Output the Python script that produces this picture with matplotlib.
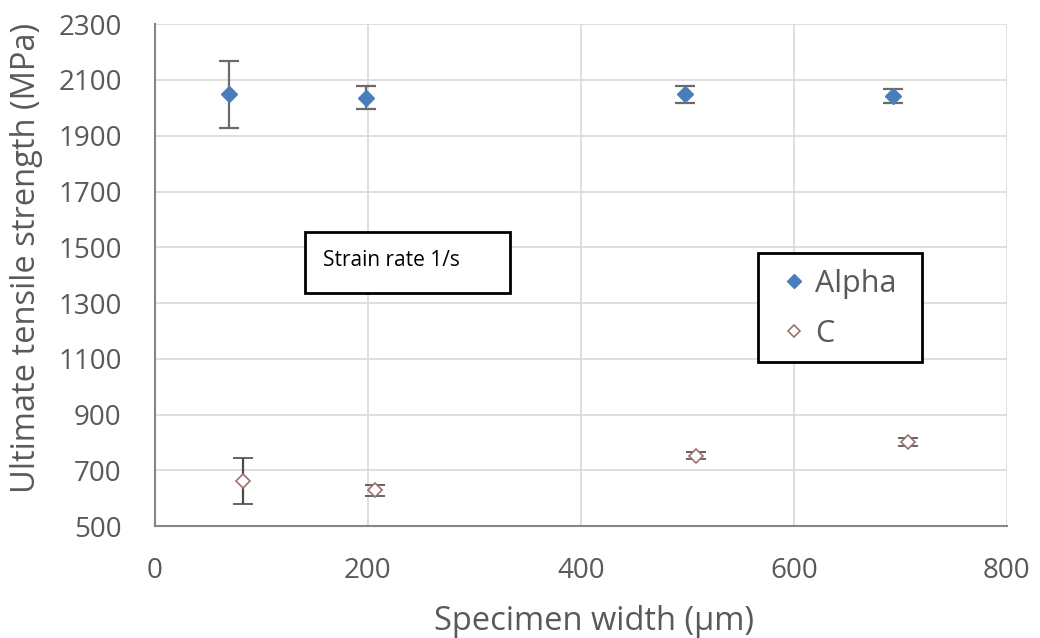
import matplotlib
matplotlib.use("Agg")
import matplotlib.pyplot as plt
from matplotlib.patches import Rectangle

plt.rcParams['font.family'] = ['Open Sans', 'DejaVu Sans']

# data
alpha_w = [70, 198, 498, 693]
alpha_uts = [2048, 2037, 2048, 2042]
alpha_err = [120, 41, 30, 25]

c_w = [83, 207, 508, 707]
c_uts = [662, 628, 752, 802]
c_err = [83, 20, 12, 15]

xticks = [0, 200, 400, 600, 800]
yticks = list(range(500, 2301, 200))

txt = '#595959'

fig = plt.figure(figsize=(10.4, 6.38), dpi=100)
ax = fig.add_axes([0.149, 0.1755, 0.819, 0.7865])

ax.errorbar(alpha_w, alpha_uts, yerr=alpha_err, fmt='D', color='#4A7EBB',
            ms=8, ecolor='#6b6b6b', elinewidth=1.6, capsize=7, capthick=1.6,
            label='Alpha', zorder=3)
ax.errorbar(c_w, c_uts, yerr=c_err, fmt='D', mfc='white', mec='#A0706A',
            ms=7, mew=1.2, ecolor='#4a4a4a', elinewidth=1.6, capsize=7,
            capthick=1.6, label='C', zorder=3)

ax.set_xlim(0, 800)
ax.set_ylim(500, 2300)
ax.set_xticks(xticks)
ax.set_yticks(yticks)
ax.grid(True, color='#D9D9D9', lw=1.2)
ax.set_axisbelow(True)
for s in ['top', 'right']:
    ax.spines[s].set_visible(False)
for s in ['left', 'bottom']:
    ax.spines[s].set_color('#868686')
    ax.spines[s].set_linewidth(1.5)
ax.tick_params(length=0, labelsize=20, labelcolor=txt)
ax.tick_params(axis='x', pad=22)
ax.tick_params(axis='y', pad=24)
ax.set_xlabel('Specimen width (µm)', fontsize=23.5, color=txt)
ax.set_ylabel('Ultimate tensile strength (MPa)', fontsize=23.5, color=txt)
ax.xaxis.set_label_coords(0.516, -0.158)
ax.yaxis.set_label_coords(-0.132, 0.534)

# note box
ax.add_patch(Rectangle((0.176, 0.464), 0.241, 0.122, transform=ax.transAxes,
                       fill=True, fc='white', ec='black', lw=2, zorder=4))
ax.text(0.197, 0.530, 'Strain rate 1/s', transform=ax.transAxes, fontsize=15,
        color='black', va='center', ha='left', zorder=5)

# legend box
ax.add_patch(Rectangle((0.708, 0.327), 0.192, 0.217, transform=ax.transAxes,
                       fill=True, fc='white', ec='black', lw=2, zorder=4))
h, l = ax.get_legend_handles_labels()
h = [x[0] for x in h]
leg = ax.legend(h, l, loc='center', bbox_to_anchor=(0.805, 0.433), frameon=False,
                fontsize=22, labelcolor=txt, handlelength=0.6, handletextpad=0.4,
                labelspacing=0.65, markerscale=0.85)
leg.set_zorder(6)

fig.savefig('out.png', dpi=100)
